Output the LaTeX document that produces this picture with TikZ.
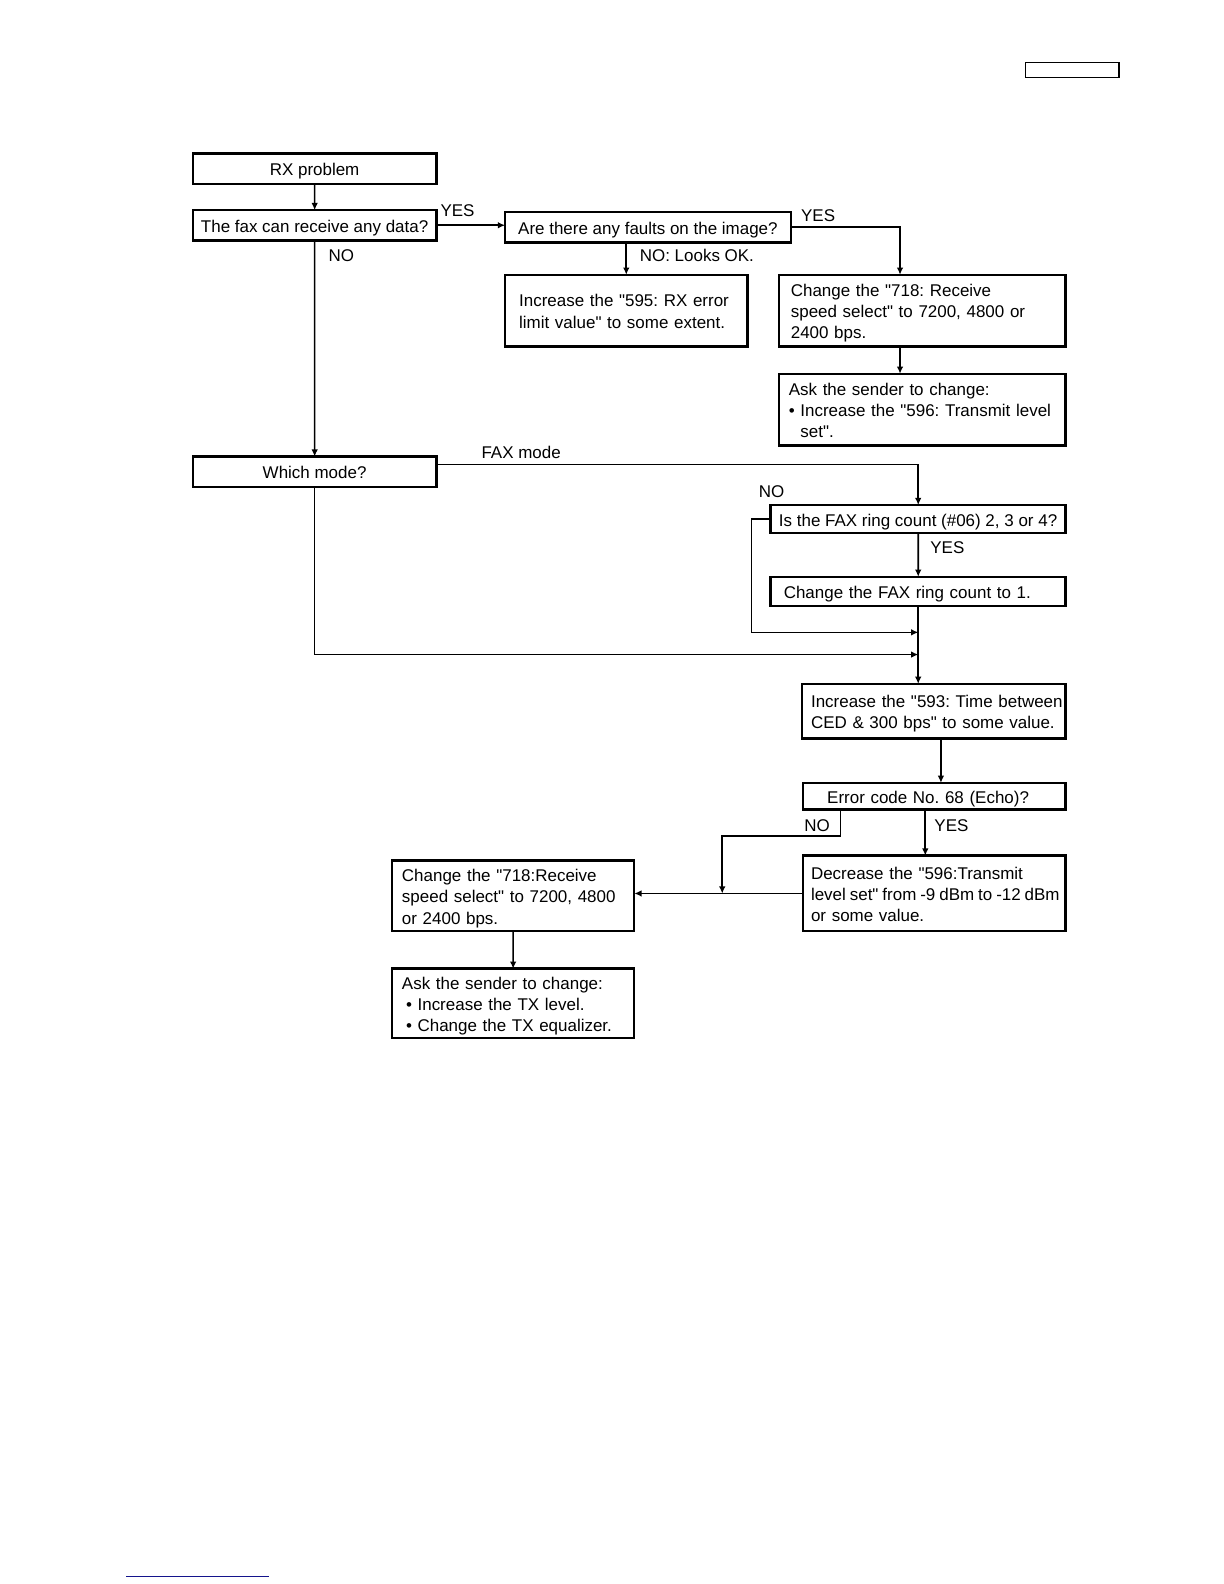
\documentclass[tikz,border=0pt]{standalone}
\usepackage{fontspec}
\newfontfamily\boxff{Liberation Sans}
\usetikzlibrary{arrows.meta,positioning}

\newcommand\boxfont{\boxff\fontsize{8.4pt}{10.5pt}\selectfont\frenchspacing}
\newcommand\rows[1]{\begin{tabular}{@{}l@{}}\rule{0pt}{10.1pt}#1\end{tabular}}
\definecolor{linkblue}{RGB}{20,20,140}

\tikzset{
  box/.style={draw=black, line width=1.2pt, rectangle, inner sep=0pt, outer sep=0pt, anchor=north west, font=\boxfont},
  lbox/.style={box, align=left},
  lab/.style={font=\boxfont, inner sep=0pt},
  flow/.style={->, line width=0.8pt},
}

\begin{document}
\begin{tikzpicture}[x=0.5pt, y=-0.5pt, >={Latex[length=3.6pt,width=3.3pt]}]
  \useasboundingbox (0,0) rectangle (1224,1584);
  \begin{scope}[scale=1.01, transform shape]

  % page header box and footer line
  \node[draw, line width=0.6pt, minimum width=46.5pt, minimum height=7.5pt, inner sep=0pt, outer sep=0pt, anchor=north west] (hdr) at (1015,62) {};
  \draw[linkblue, line width=0.6pt] (125,1561) -- (266,1561);

  % upper part
  \node[box, minimum width=120.5pt, minimum height=15pt] (rx) at (191,152) {\rows{RX problem}};
  \node[box, minimum width=120.5pt, minimum height=15pt] (fax) at (191,208) {\rows{The fax can receive any data?}};
  \node[box, minimum width=141.5pt, minimum height=15pt] (img) at (500,210) {\rows{Are there any faults on the image?}};
  \node[lbox, text width=106pt, inner xsep=7pt, minimum height=35.5pt] (lim) at (500,272)
    {\rows{Increase the "595: RX error\\limit value" to some extent.}};
  \node[lbox, text width=130pt, inner xsep=6pt, minimum height=35.5pt] (spd) at (771,272)
    {\rows{Change the "718: Receive\\speed select" to 7200, 4800 or\\2400 bps.}};
  \node[lbox, text width=132pt, inner xsep=5pt, minimum height=35.5pt] (ask) at (771,370)
    {\rows{Ask the sender to change:\\\textbullet\ Increase the "596: Transmit level\\\phantom{\textbullet\ }set".}};

  % mode part
  \node[box, minimum width=120.5pt, minimum height=15pt] (mode) at (191,452) {\rows{Which mode?}};
  \node[box, minimum width=146pt, minimum height=14pt] (ring) at (763,500) {\rows{Is the FAX ring count (\#06) 2, 3 or 4?}};
  \node[lbox, text width=133pt, inner xsep=6.5pt, minimum height=14.5pt] (one) at (763,571)
    {\rows{Change the FAX ring count to 1.}};
  \node[lbox, text width=121.5pt, inner xsep=4.5pt, minimum height=27pt] (ced) at (794,677)
    {\rows{Increase the "593: Time between\\CED \& 300 bps" to some value.}};

  % echo part
  \node[lbox, text width=106pt, inner xsep=12pt, minimum height=13pt] (echo) at (795,775)
    {\rows{Error code No. 68 (Echo)?}};
  \node[lbox, text width=122pt, inner xsep=4pt, minimum height=37.5pt] (dec) at (795,847)
    {\rows{Decrease the "596:Transmit\\{\spaceskip=1.95pt level set" from -9 dBm to -12 dBm}\\or some value.}};
  \node[lbox, text width=110pt, inner xsep=5pt, minimum height=35pt] (spd2) at (388,852)
    {\rows{Change the "718:Receive\\speed select" to 7200, 4800\\or 2400 bps.}};
  \node[lbox, text width=110pt, inner xsep=5pt, minimum height=34.5pt] (ask2) at (388,959)
    {\rows{Ask the sender to change:\\\hspace*{2pt}\textbullet\ Increase the TX level.\\\hspace*{2pt}\textbullet\ Change the TX equalizer.}};

  % labels
  \node[lab] (yes1) at (453,209) {YES};
  \node[lab] (no1) at (338,253) {NO};
  \node[lab] (yes2) at (810,214) {YES};
  \node[lab] (no2) at (690,253) {NO: Looks OK.};
  \node[lab] (fm) at (516,448) {FAX mode};
  \node[lab] (no3) at (764,487) {NO};
  \node[lab] (yes3) at (938,542) {YES};
  \node[lab] (no4) at (809,817) {NO};
  \node[lab] (yes4) at (942,817) {YES};

  \coordinate (m1) at (one.south |- 0,626);
  \coordinate (m2) at (one.south |- 0,648);
  \coordinate (j2) at (715,0 |- dec.west);

  % connectors
  \draw[flow] (rx) -- (fax);
  \draw[flow] (fax.east) -- (fax.east -| img.west);
  \draw[flow] (img.east) -| ([xshift=-11pt]spd.north);
  \draw[flow] (img.south -| lim.north) -- (lim.north);
  \draw[flow] ([xshift=-11pt]spd.south) -- ([xshift=-11pt]ask.north);
  \draw[flow] (fax) -- (mode);
  \draw[flow] ([yshift=3.5pt]mode.east) -| (ring.north);
  \draw[flow] (ring) -- (one);
  \draw[flow] (ring.west) -- ++(-19,0) |- (m1);
  \draw[flow] (mode.south) |- (m2);
  \draw[flow] (one.south) -- (one.south |- ced.north);
  \draw[flow] ([xshift=3.5pt]ced.south) -- ([xshift=3.5pt]ced.south |- echo.north);
  \draw[flow] ([xshift=-4.5pt]echo.south) -- ([xshift=-4.5pt]echo.south |- dec.north);
  \draw[flow] ([xshift=-46.5pt]echo.south) -- ++(0,26) -| (j2);
  \draw[flow] (dec.west) -- (dec.west -| spd2.east);
  \draw[flow] (spd2) -- (spd2 |- ask2.north);
  \end{scope}
\end{tikzpicture}
\end{document}
